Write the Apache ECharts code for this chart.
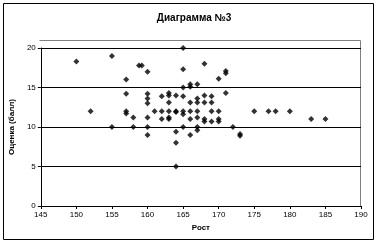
<!DOCTYPE html>
<html><head><meta charset="utf-8">
<script src="https://cdn.jsdelivr.net/npm/echarts@6/dist/echarts.min.js"></script>
<style>html,body{margin:0;padding:0;background:#fff}#c{width:378px;height:245px}</style>
</head><body><div id="c"></div>
<script>
var titleText = "Диаграмма №3";
var xName = "Рост";
var yName = "Оценка (балл)";
var xTicks = [145,150,155,160,165,170,175,180,185,190];
var yTicks = [0,5,10,15,20];
var heights = [150,152,155,155,157,157,157,157,158,158,158.8,159.2,
  160,160,160,160,160,160,160,161,162,162,162,
  163,163,163,163,163,163,164,164,164,164,164,164,
  165,165,165,165,165,165,165,166,166,166,166,166,166,
  167,167,167,167,167,167,167,168,168,168,168,168,
  169,169,169,169,170,170,170,170,171,171,171,
  172,173,173,175,177,178,180,183,185];
var scores = [18.3,12,19,10,16,14.2,12,11.7,11.2,10,17.8,17.8,
  17,14.2,13.6,13,11.2,10,9,12,13.9,12,11,
  14.3,14,13.1,12,11.2,11,14,12,11.9,9.4,8,5,
  20,17.3,15,13.9,12,11.6,10,15.4,15.1,13.1,12,11,9,
  15.4,13.6,13.1,12,11.2,10,9.6,18,14,13.1,11,10.7,
  13.9,13.1,12,10.7,16.1,12,11,10.7,17.1,16.8,14.3,
  10,9.1,8.9,12,12,12,12,11,11];
var pts = heights.map(function(h,i){return [h,scores[i]];});
var chart = echarts.init(document.getElementById('c'));
var lbl = {color:'#000',fontFamily:'Liberation Sans, Arial',fontSize:8};
chart.setOption({
  animation:false,
  backgroundColor:'#fff',
  title:{text:titleText,left:189,top:8,textAlign:'center',
    textStyle:{fontFamily:'Liberation Sans, Arial',fontSize:10,fontWeight:'bold',color:'#000'}},
  grid:{left:39,right:17,top:48,bottom:39},
  xAxis:{type:'value',min:xTicks[0],max:xTicks[xTicks.length-1],interval:5,
    name:xName,nameLocation:'middle',nameGap:15,
    nameTextStyle:{fontFamily:'Liberation Sans, Arial',fontSize:8,fontWeight:'bold',color:'#000'},
    axisLine:{show:true,lineStyle:{color:'#000',width:1}},
    axisTick:{show:true,inside:false,length:3,lineStyle:{color:'#000'}},
    axisLabel:Object.assign({margin:5},lbl),
    splitLine:{show:false}},
  yAxis:{type:'value',min:yTicks[0],max:yTicks[yTicks.length-1],interval:5,
    name:yName,nameLocation:'middle',nameGap:20,nameRotate:90,
    nameTextStyle:{fontFamily:'Liberation Sans, Arial',fontSize:8,fontWeight:'bold',color:'#000'},
    axisLine:{show:true,lineStyle:{color:'#000',width:1}},
    axisTick:{show:true,inside:false,length:3,lineStyle:{color:'#000'}},
    axisLabel:Object.assign({margin:5},lbl),
    splitLine:{show:true,lineStyle:{color:'#000',width:1}}},
  graphic:[
    {type:'rect',shape:{x:3.5,y:3.5,width:370,height:236},style:{fill:'none',stroke:'#000',lineWidth:1},z:-1},
    {type:'polyline',shape:{points:[[39.5,40.5],[360.5,40.5],[360.5,206]]},style:{fill:'none',stroke:'#808080',lineWidth:1},z:-1}
  ],
  series:[{type:'scatter',data:pts,symbol:'diamond',symbolSize:6,
    itemStyle:{color:'#000'}}]
});
</script></body></html>
